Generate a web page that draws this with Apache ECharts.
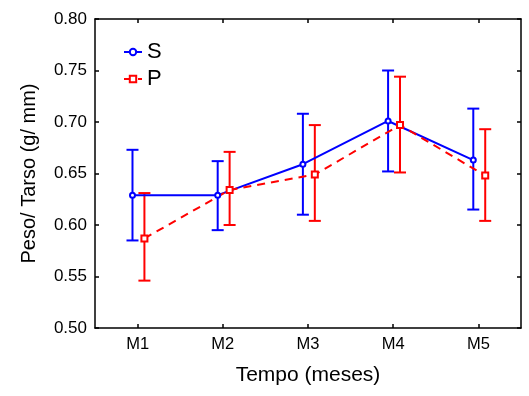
<!DOCTYPE html>
<html>
<head>
<meta charset="utf-8">
<script src="https://cdn.jsdelivr.net/npm/echarts@6/dist/echarts.min.js"></script>
<style>html,body{margin:0;padding:0;background:#fff}#c{width:529px;height:396px}</style>
</head>
<body>
<div id="c"></div>
<script>
var categories = ['M1', 'M2', 'M3', 'M4', 'M5'];
var sMean = [0.629, 0.629, 0.659, 0.701, 0.663];
var sLow  = [0.585, 0.595, 0.610, 0.652, 0.615];
var sHigh = [0.673, 0.662, 0.708, 0.750, 0.713];
var pMean = [0.587, 0.634, 0.649, 0.697, 0.648];
var pLow  = [0.546, 0.600, 0.604, 0.651, 0.604];
var pHigh = [0.631, 0.671, 0.697, 0.744, 0.693];
var yTicks = [0.50, 0.55, 0.60, 0.65, 0.70, 0.75, 0.80];

var S_OFF = -0.06, P_OFF = 0.08;
var FONT = 'Liberation Sans, Arial, sans-serif';

function pts(mean, off) { return mean.map(function (v, i) { return [i + 1 + off, v]; }); }
function errs(low, high, off) { return low.map(function (v, i) { return [i + 1 + off, v, high[i]]; }); }

function errRender(color) {
  return function (params, api) {
    var x = api.value(0);
    var lo = api.coord([x, api.value(1)]);
    var hi = api.coord([x, api.value(2)]);
    var w = 6;
    var st = { stroke: color, lineWidth: 2 };
    return { type: 'group', children: [
      { type: 'line', shape: { x1: lo[0], y1: lo[1], x2: hi[0], y2: hi[1] }, style: st },
      { type: 'line', shape: { x1: lo[0] - w, y1: lo[1], x2: lo[0] + w, y2: lo[1] }, style: st },
      { type: 'line', shape: { x1: hi[0] - w, y1: hi[1], x2: hi[0] + w, y2: hi[1] }, style: st }
    ]};
  };
}

var chart = echarts.init(document.getElementById('c'), null, { renderer: 'canvas' });
var axisLine = { show: true, lineStyle: { color: '#000', width: 1.5 } };
var tick = { show: true, inside: true, length: 4, lineStyle: { color: '#000', width: 1.5 } };
chart.setOption({
  animation: false,
  grid: { left: 95, right: 8, top: 19, bottom: 68 },
  legend: {
    orient: 'vertical', left: 118, top: 36, itemGap: 5,
    itemWidth: 18, itemHeight: 8,
    textStyle: { fontFamily: FONT, fontSize: 22, color: '#000', padding: [2, 0, 0, 0] },
    data: ['S', 'P']
  },
  xAxis: [
    { type: 'category', data: categories, position: 'bottom', boundaryGap: true,
      axisLine: axisLine, axisTick: Object.assign({ alignWithLabel: true }, tick),
      axisLabel: { fontFamily: FONT, fontSize: 16.5, color: '#000', margin: 8 },
      name: 'Tempo (meses)', nameLocation: 'middle', nameGap: 37,
      nameTextStyle: { fontFamily: FONT, fontSize: 21, color: '#000' } },
    { type: 'category', data: categories, position: 'top', boundaryGap: true,
      axisLine: axisLine, axisTick: Object.assign({ alignWithLabel: true }, tick),
      axisLabel: { show: false } },
    { type: 'value', min: 0.5, max: 5.5, show: false }
  ],
  yAxis: [
    { type: 'value', min: 0.50, max: 0.80, interval: 0.05, position: 'left',
      axisLine: axisLine, axisTick: tick,
      splitLine: { show: false },
      axisLabel: { fontFamily: FONT, fontSize: 17, color: '#000', margin: 8,
        formatter: function (v) { var t = yTicks.find(function (k) { return Math.abs(k - v) < 1e-6; }); return t !== undefined ? t.toFixed(2) : ''; } },
      name: 'Peso/ Tarso (g/ mm)', nameLocation: 'middle', nameGap: 56,
      nameTextStyle: { fontFamily: FONT, fontSize: 20, color: '#000' } },
    { type: 'value', min: 0.50, max: 0.80, interval: 0.05, position: 'right',
      axisLine: axisLine, axisTick: tick,
      splitLine: { show: false }, axisLabel: { show: false } }
  ],
  series: [
    { name: 'S', type: 'line', xAxisIndex: 2, yAxisIndex: 0, data: pts(sMean, S_OFF),
      symbol: 'emptyCircle', symbolSize: 5, color: '#0000ff',
      lineStyle: { color: '#0000ff', width: 2 },
      itemStyle: { color: '#0000ff', borderColor: '#0000ff', borderWidth: 2 }, z: 3 },
    { name: 'P', type: 'line', xAxisIndex: 2, yAxisIndex: 0, data: pts(pMean, P_OFF),
      symbol: 'emptyRect', symbolSize: 6, color: '#ff0000',
      lineStyle: { color: '#ff0000', width: 2, type: [8, 6] },
      itemStyle: { color: '#ff0000', borderColor: '#ff0000', borderWidth: 2 }, z: 3 },
    { name: 'S_err', type: 'custom', xAxisIndex: 2, yAxisIndex: 0, data: errs(sLow, sHigh, S_OFF),
      renderItem: errRender('#0000ff'), z: 2, silent: true },
    { name: 'P_err', type: 'custom', xAxisIndex: 2, yAxisIndex: 0, data: errs(pLow, pHigh, P_OFF),
      renderItem: errRender('#ff0000'), z: 2, silent: true }
  ]
});
</script>
</body>
</html>
